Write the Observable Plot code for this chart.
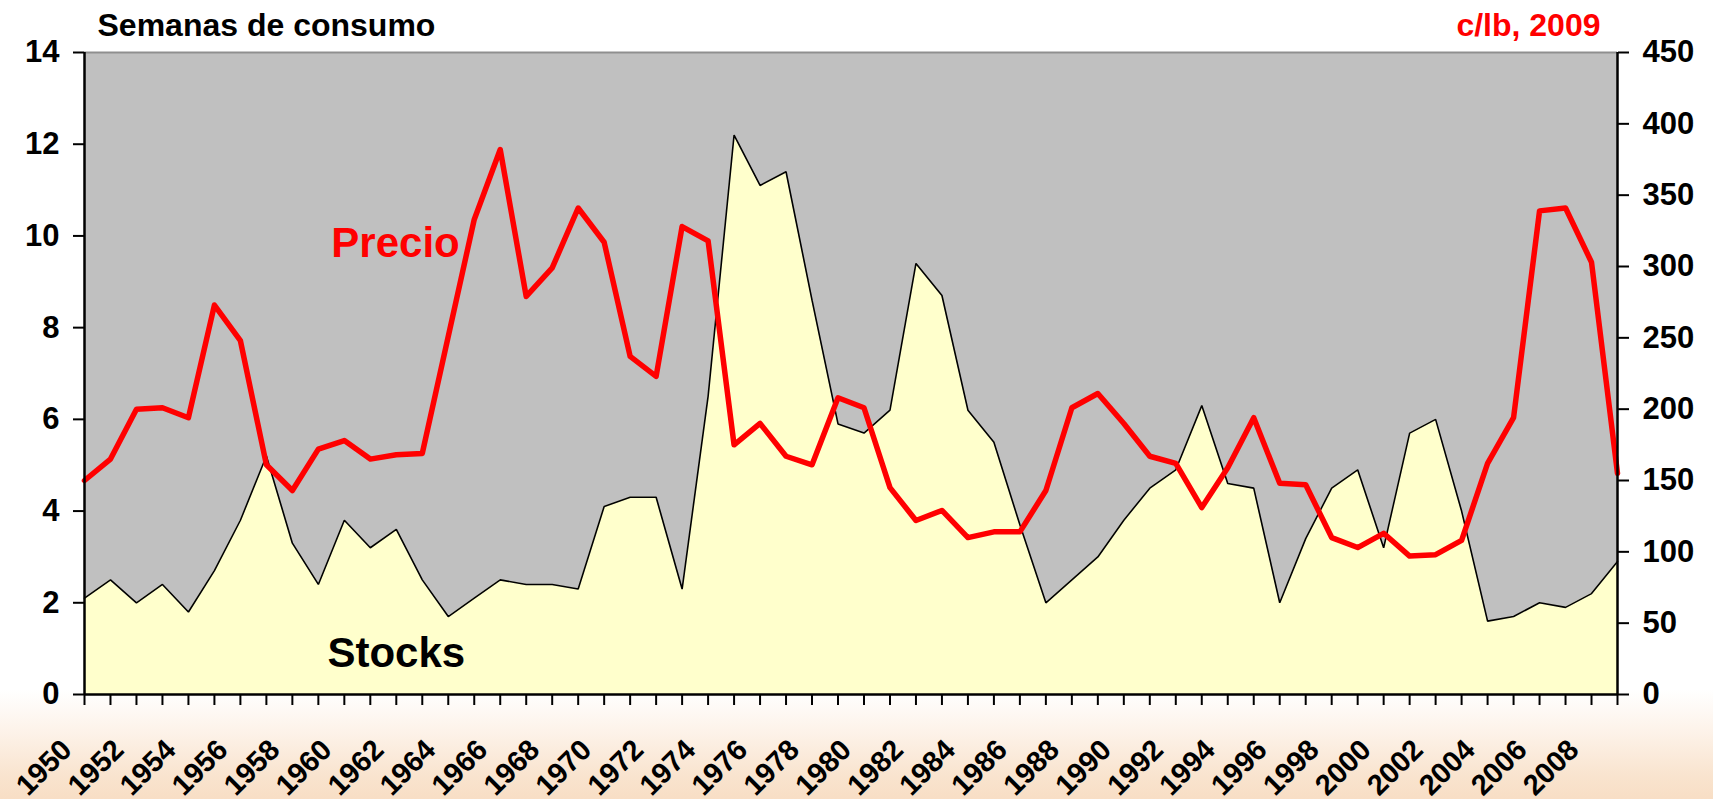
<!DOCTYPE html>
<html>
<head>
<meta charset="utf-8">
<script src="https://cdn.jsdelivr.net/npm/d3@7"></script>
<script src="https://cdn.jsdelivr.net/npm/@observablehq/plot@0.6"></script>
<style>
  html, body { margin: 0; padding: 0; }
  body {
    width: 1713px; height: 799px; overflow: hidden;
    background: linear-gradient(to bottom, #ffffff 0px, #ffffff 690px, #fdf3ea 730px, #f9e4cf 775px, #f8dec5 799px);
    font-family: "Liberation Sans", Arial, sans-serif;
  }
  #chart svg { display: block; }
</style>
</head>
<body>
<div id="chart"></div>
<script>
// Categories (years)
const years = [1950,1951,1952,1953,1954,1955,1956,1957,1958,1959,
               1960,1961,1962,1963,1964,1965,1966,1967,1968,1969,
               1970,1971,1972,1973,1974,1975,1976,1977,1978,1979,
               1980,1981,1982,1983,1984,1985,1986,1987,1988,1989,
               1990,1991,1992,1993,1994,1995,1996,1997,1998,1999,
               2000,2001,2002,2003,2004,2005,2006,2007,2008,2009];

// Stocks, weeks of consumption (left axis)
const stocks = [2.1,2.5,2.0,2.4,1.8,2.7,3.8,5.2,3.3,2.4,
                3.8,3.2,3.6,2.5,1.7,2.1,2.5,2.4,2.4,2.3,
                4.1,4.3,4.3,2.3,6.5,12.2,11.1,11.4,8.6,5.9,
                5.7,6.2,9.4,8.7,6.2,5.5,3.7,2.0,2.5,3.0,
                3.8,4.5,4.9,6.3,4.6,4.5,2.0,3.4,4.5,4.9,
                3.2,5.7,6.0,4.0,1.6,1.7,2.0,1.9,2.2,2.9];

// Price, c/lb 2009 (right axis)
const price = [150,165,200,201,194,273,248,161,143,172,
               178,165,168,169,251,333,382,279,299,341,
               317,237,223,328,318,175,190,167,161,208,
               201,145,122,129,110,114,114,143,201,211,
               190,167,162,131,159,194,148,147,110,103,
               113,97,98,108,162,194,339,341,303,155];

// Tick values
const leftTicks = [0,2,4,6,8,10,12,14];
const rightTicks = [0,50,100,150,200,250,300,350,400,450];
const labelYears = [1950,1952,1954,1956,1958,1960,1962,1964,1966,1968,
                    1970,1972,1974,1976,1978,1980,1982,1984,1986,1988,
                    1990,1992,1994,1996,1998,2000,2002,2004,2006,2008];

const leftTitle = "Semanas de consumo";
const rightTitle = "c/lb, 2009";

const leftMax = 14, rightMax = 450;
const k = leftMax / rightMax;

const data = years.map((y, i) => ({year: y, stocks: stocks[i], price: price[i]}));

const font = "'Liberation Sans', Arial, sans-serif";

const chart = Plot.plot({
  width: 1713,
  height: 799,
  marginLeft: 84,
  marginRight: 96,
  marginTop: 52,
  marginBottom: 105,
  style: {background: "transparent", fontFamily: font, overflow: "visible"},
  x: {domain: [years[0], years[years.length - 1]]},
  y: {domain: [0, leftMax]},
  marks: [
    Plot.frame({fill: "#C0C0C0", stroke: null}),
    Plot.areaY(data, {x: "year", y: "stocks", fill: "#FFFFCC"}),
    Plot.lineY(data, {x: "year", y: "stocks", stroke: "#000", strokeWidth: 1.6, strokeLinejoin: "miter"}),
    Plot.ruleY([leftMax], {stroke: "#8f8f8f", strokeWidth: 2}),
    Plot.lineY(data, {x: "year", y: d => d.price * k, stroke: "#FF0000", strokeWidth: 5.5, strokeLinejoin: "round"}),
    Plot.ruleY([0], {stroke: "#000", strokeWidth: 2.5}),
    Plot.ruleX([years[0]], {stroke: "#000", strokeWidth: 2.5}),
    Plot.ruleX([years[years.length - 1]], {stroke: "#000", strokeWidth: 2.5}),
    Plot.axisY(leftTicks, {anchor: "left", tickSize: 11, tickPadding: 14, strokeWidth: 2,
      fontSize: 31, fontWeight: "bold", label: null, fill: "#000"}),
    Plot.axisY(rightTicks.map(v => v * k), {anchor: "right", tickSize: 11, tickPadding: 14, strokeWidth: 2,
      tickFormat: d => String(Math.round(d / k)), fontSize: 31, fontWeight: "bold", label: null, fill: "#000"}),
    Plot.axisX(years, {anchor: "bottom", tickSize: 11, strokeWidth: 2, tickFormat: () => "", label: null}),
    Plot.text(labelYears, {x: d => d, frameAnchor: "bottom", text: d => String(d), rotate: -45,
      textAnchor: "end", lineAnchor: "bottom", dx: -11, dy: 57, fontSize: 29, fontWeight: "bold", fill: "#000"}),
    Plot.text([leftTitle], {frameAnchor: "top-left", textAnchor: "start", lineAnchor: "bottom",
      dx: 13, dy: -17, fontSize: 32, fontWeight: "bold", fill: "#000"}),
    Plot.text([rightTitle], {frameAnchor: "top-right", textAnchor: "end", lineAnchor: "bottom",
      dx: -17, dy: -17, fontSize: 32, fontWeight: "bold", fill: "#FF0000"}),
    Plot.text(["Precio"], {x: () => 1959.5, y: () => 9.55, textAnchor: "start", lineAnchor: "bottom",
      fontSize: 42, fontWeight: "bold", fill: "#FF0000"}),
    Plot.text(["Stocks"], {x: () => 1959.35, y: () => 0.6, textAnchor: "start", lineAnchor: "bottom",
      fontSize: 42, fontWeight: "bold", fill: "#000"})
  ]
});

document.getElementById("chart").appendChild(chart);
</script>
</body>
</html>
